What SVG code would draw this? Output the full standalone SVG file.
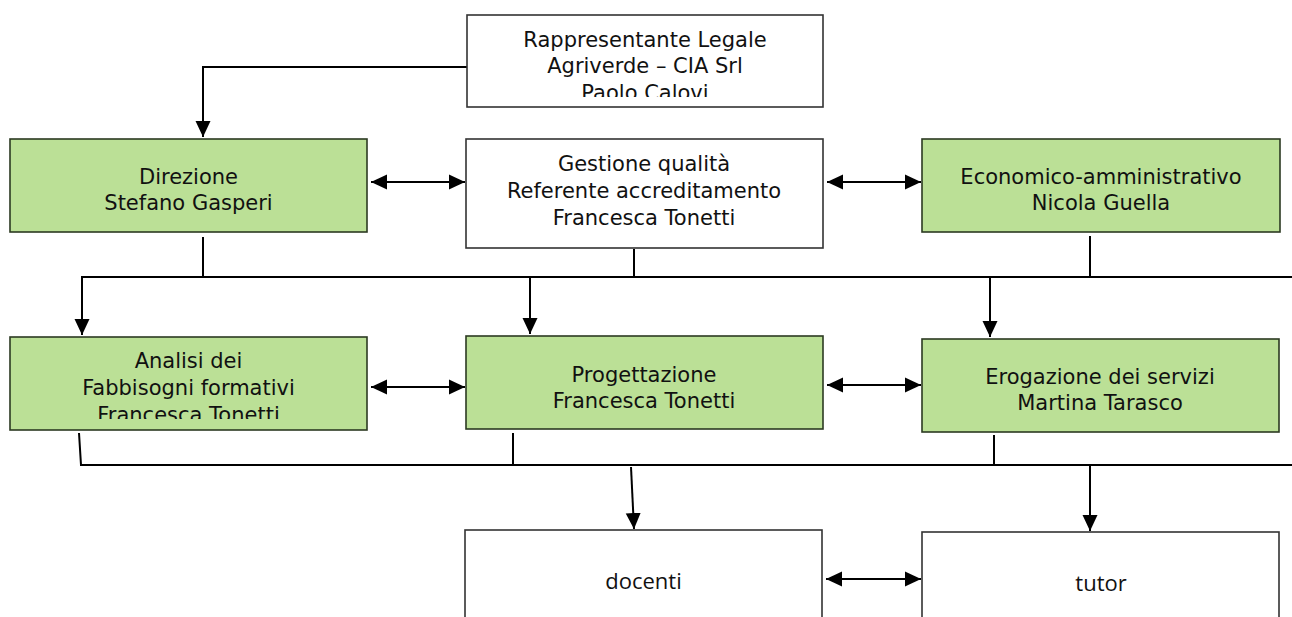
<svg xmlns="http://www.w3.org/2000/svg" width="1292" height="617" viewBox="0 0 1292 617">
<style>
.g{fill:#bbe096;stroke:#2c3a22;stroke-width:1.6}
.w{fill:#fff;stroke:#333;stroke-width:1.6}
.t{font-family:"DejaVu Sans","Verdana",sans-serif;font-size:21px;fill:#111;text-anchor:middle}
.o{font-family:"Open Sans","Noto Sans",sans-serif;font-size:22px;fill:#111;text-anchor:middle}
.c{fill:none;stroke:#000;stroke-width:2}
</style>
<defs>
<marker id="ah" markerUnits="userSpaceOnUse" markerWidth="18" markerHeight="18" refX="16" refY="8" orient="auto-start-reverse" viewBox="0 0 18 16">
<path d="M0,0.5 L16,8 L0,15.5 Z" fill="#000"/>
</marker>
<clipPath id="clipR"><rect x="467" y="15" width="356" height="82"/></clipPath>
<clipPath id="clipA"><rect x="10" y="337" width="357" height="82"/></clipPath>
</defs>
<g id="connectors">
<polyline class="c" points="467,67 203,67 203,137" marker-end="url(#ah)"/>
<line class="c" x1="371" y1="182" x2="465" y2="182" marker-start="url(#ah)" marker-end="url(#ah)"/>
<line class="c" x1="827" y1="182" x2="921" y2="182" marker-start="url(#ah)" marker-end="url(#ah)"/>
<line class="c" x1="203" y1="237" x2="203" y2="277"/>
<line class="c" x1="634" y1="249" x2="634" y2="277"/>
<line class="c" x1="1090" y1="236" x2="1090" y2="277"/>
<line class="c" x1="81" y1="277" x2="1292" y2="277"/>
<line class="c" x1="82" y1="277" x2="82" y2="335" marker-end="url(#ah)"/>
<line class="c" x1="530" y1="277" x2="530" y2="334" marker-end="url(#ah)"/>
<line class="c" x1="990" y1="277" x2="990" y2="337" marker-end="url(#ah)"/>
<line class="c" x1="371" y1="387" x2="465" y2="387" marker-start="url(#ah)" marker-end="url(#ah)"/>
<line class="c" x1="827" y1="385" x2="921" y2="385" marker-start="url(#ah)" marker-end="url(#ah)"/>
<line class="c" x1="79" y1="433" x2="81" y2="465"/>
<line class="c" x1="513" y1="433" x2="513" y2="465"/>
<line class="c" x1="994" y1="435" x2="994" y2="465"/>
<line class="c" x1="80" y1="465" x2="1292" y2="465"/>
<line class="c" x1="631" y1="467" x2="634" y2="529" marker-end="url(#ah)"/>
<line class="c" x1="1090" y1="465" x2="1090" y2="531" marker-end="url(#ah)"/>
<line class="c" x1="826" y1="579" x2="921" y2="579" marker-start="url(#ah)" marker-end="url(#ah)"/>
</g>
<g id="rappresentante">
<rect class="w" x="467" y="15" width="356" height="92"/>
<g clip-path="url(#clipR)">
<text class="t" x="645" y="47">Rappresentante Legale</text>
<text class="t" x="645" y="73">Agriverde – CIA Srl</text>
<text class="t" x="645" y="100">Paolo Calovi</text>
</g>
</g>
<g id="direzione">
<rect class="g" x="10" y="139" width="357" height="93"/>
<text class="t" x="188.5" y="184">Direzione</text>
<text class="t" x="188.5" y="210">Stefano Gasperi</text>
</g>
<g id="gestione">
<rect class="w" x="466" y="139" width="357" height="109"/>
<text class="t" x="644" y="171">Gestione qualità</text>
<text class="t" x="644" y="198">Referente accreditamento</text>
<text class="t" x="644" y="225">Francesca Tonetti</text>
</g>
<g id="economico">
<rect class="g" x="922" y="139" width="358" height="93"/>
<text class="t" x="1101" y="184">Economico-amministrativo</text>
<text class="t" x="1101" y="210">Nicola Guella</text>
</g>
<g id="analisi">
<rect class="g" x="10" y="337" width="357" height="93"/>
<g clip-path="url(#clipA)">
<text class="t" x="188.5" y="368">Analisi dei</text>
<text class="t" x="188.5" y="395">Fabbisogni formativi</text>
<text class="t" x="188.5" y="422">Francesca Tonetti</text>
</g>
</g>
<g id="progettazione">
<rect class="g" x="466" y="336" width="357" height="93"/>
<text class="t" x="644" y="382">Progettazione</text>
<text class="t" x="644" y="408">Francesca Tonetti</text>
</g>
<g id="erogazione">
<rect class="g" x="922" y="339" width="357" height="93"/>
<text class="t" x="1100" y="384">Erogazione dei servizi</text>
<text class="t" x="1100" y="410">Martina Tarasco</text>
</g>
<g id="docenti">
<rect class="w" x="465" y="530" width="357" height="120"/>
<text class="o" x="643.5" y="589">docenti</text>
</g>
<g id="tutor">
<rect class="w" x="922" y="532" width="357" height="120"/>
<text class="o" x="1101" y="591">tutor</text>
</g>
</svg>
